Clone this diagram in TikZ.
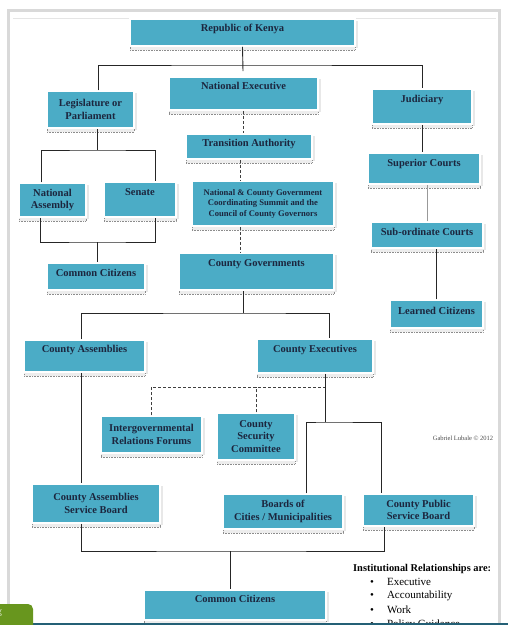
\documentclass[tikz,border=0pt]{standalone}
\usepackage{fontspec}
\setmainfont{Liberation Serif}
\definecolor{kteal}{RGB}{75,172,198}
\definecolor{kink}{RGB}{28,38,62}
\definecolor{kbar}{RGB}{36,96,118}
\definecolor{kgreen}{RGB}{104,150,30}
\tikzstyle{kbox}=[rectangle, fill=kteal, draw=white, line width=1.5pt, text=kink, inner sep=2pt, align=center,
    font=\bfseries\fontsize{10.5}{12.5}\selectfont,
    preaction={fill=black!9, transform canvas={xshift=2.5pt,yshift=-1.5pt}},
    preaction={fill=black!7, draw=black!45, densely dotted, line width=0.6pt, transform canvas={yshift=-4pt}}]
\tikzstyle{link}=[draw=black!85, line width=0.9pt]
\tikzstyle{dlink}=[draw=black!75, line width=0.9pt, dash pattern=on 3pt off 2pt]
\tikzstyle{glink}=[draw=black!40, line width=0.9pt]
\tikzstyle{item}=[anchor=west, inner sep=0pt, font=\fontsize{11}{13}\selectfont]
\tikzset{wh/.style 2 args={minimum width=#1pt, minimum height=#2pt},
         lift/.style={text height=7.5pt, text depth=#1}}

\begin{document}
\begin{tikzpicture}[x=1pt,y=-1pt]
        \useasboundingbox (0,0) rectangle (508,625);
        \draw[black!15, line width=3pt] (8.5,640) -- (8.5,10) -- (499.5,10) -- (499.5,640);
        \draw[black!10, line width=0.6pt] (13,18.5) -- (496,18.5);
        %
        \draw (242.5,32.5) node[kbox, wh={225}{27}, lift=9pt](rep){Republic of Kenya};
        \draw (243.5,93.5) node[kbox, wh={149}{33}, lift=15pt](nexe){National Executive};
        \draw (90.5,109.5) node[kbox, wh={87}{37}](leg){Legislature or\\Parliament};
        \draw (422,106.5) node[kbox, wh={100}{35}, lift=15pt](jud){Judiciary};
        \draw (249,146.5) node[kbox, wh={126}{25}, lift=7pt](trans){Transition Authority};
        \draw (424,168.5) node[kbox, wh={112}{31}, lift=11pt](sup){Superior Courts};
        \draw (52.5,200) node[kbox, wh={67}{34}](nass){National\\Assembly};
        \draw (140,199.5) node[kbox, wh={72}{35}, lift=15pt](sen){Senate};
        \draw (263,203.5) node[kbox, wh={142}{45}, font=\bfseries\fontsize{8.6}{10.5}\selectfont](summit){National \& County Government\\Coordinating Summit and the\\Council of County Governors};
        \draw (427,235) node[kbox, wh={112}{26}, lift=6pt](subc){Sub-ordinate Courts};
        \draw (96,276.5) node[kbox, wh={98}{27}, lift=7pt](ccit){Common Citizens};
        \draw (256.5,271.5) node[kbox, wh={155}{37}, lift=17pt](cgov){County Governments};
        \draw (436.5,314) node[kbox, wh={93}{28}, lift=6pt](learn){Learned Citizens};
        \draw (84.5,356) node[kbox, wh={121}{32}, lift=14pt](cass){County Assemblies};
        \draw (315,356) node[kbox, wh={116}{34}, lift=14pt](cexe){County Executives};
        \draw (151.5,434.5) node[kbox, wh={101}{37}](igr){Intergovernmental\\Relations Forums};
        \draw (256,436.5) node[kbox, wh={78}{47}](csc){County\\Security\\Committee};
        \draw (96,503.5) node[kbox, wh={128}{39}](casb){County Assemblies\\Service Board};
        \draw (283,511.5) node[kbox, wh={120}{35}](boards){Boards of\\Cities / Municipalities};
        \draw (418.5,510) node[kbox, wh={111}{32}](cpsb){County Public\\Service Board};
        \draw (235,605) node[kbox, wh={182}{30}, lift=12pt](ccit2){Common Citizens};
        %
        \coordinate (t1) at (243,71);
        \coordinate (l1) at (97,150);
        \coordinate (l2) at (97,242);
        \coordinate (g1) at (243,313);
        \coordinate (e1) at (325,387);
        \coordinate (e2) at (325,422);
        \coordinate (b1) at (230,551);
        %
        \draw[link] (rep.south) -- (t1);
        \draw[link] ([xshift=7.5pt]leg.north) |- (243,65) -| (jud.north);
        \draw[dlink] (nexe.south) -- (nexe.south|-trans.north);
        \draw[dlink] ([xshift=-9pt]trans.south) -- ([xshift=-23pt]summit.north);
        \draw[dlink] ([xshift=-23pt]summit.south) -- ([xshift=-23pt]summit.south|-cgov.north);
        \draw[link] ([xshift=6.5pt]leg.south) -- (l1);
        \draw[link] ([xshift=-11.5pt]nass.north) |- (l1) -| ([xshift=15pt]sen.north);
        \draw[link] ([xshift=-12.5pt]nass.south) |- (l2) -| ([xshift=15pt]sen.south);
        \draw[link] (l2) -- (l2|-ccit.north);
        \draw[link] (jud.south) -- (jud.south|-sup.north);
        \draw[glink] (subc.north) -- (subc.north|-sup.south);
        \draw[link] (learn.north) -- (learn.north|-subc.south);
        \draw[link] (g1) -- (g1|-cgov.south);
        \draw[link] ([xshift=-3.5pt]cass.north) |- (g1) -| ([xshift=14pt]cexe.north);
        \draw[link] ([xshift=-3.5pt]cass.south) -- ([xshift=-3.5pt]cass.south|-casb.north);
        \draw[link] ([xshift=10pt]cexe.south) -- (e2);
        \draw[dlink] (igr.north) |- (e1);
        \draw[dlink] (csc.north) -- (csc.north|-e1);
        \draw[link] ([xshift=23pt]boards.north) |- (e2) -| ([xshift=-37.5pt]cpsb.north);
        \draw[link] ([xshift=-15pt]casb.south) |- (b1) -| ([xshift=-34.5pt]cpsb.south);
        \draw[link] (b1) -- ([xshift=-5pt]ccit2.north);
        %
        \node[text=black!70, font=\fontsize{6.5}{8}\selectfont](sig) at (463,438){Gabriel Lubale © 2012};
        \node[anchor=west, inner sep=0pt, font=\bfseries\fontsize{10.4}{12}\selectfont](relhd) at (353,569){Institutional Relationships are:};
        \node[item](r1) at (370,582){\textbullet\hspace{13pt}Executive};
        \node[item](r2) at (370,596){\textbullet\hspace{13pt}Accountability};
        \node[item](r3) at (370,610){\textbullet\hspace{13pt}Work};
        \node[item](r4) at (370,624.5){\textbullet\hspace{13pt}Policy Guidance};
        %
        \fill[kbar] (0,622.5) rectangle (508,627);
        \fill[kgreen, rounded corners=5pt] (-6,604) rectangle (33,632);
        \node[anchor=west, inner sep=0pt, text=white!75!kgreen, font=\sffamily\fontsize{10}{12}\selectfont](tag) at (-3,613){g};
\end{tikzpicture}
\end{document}
